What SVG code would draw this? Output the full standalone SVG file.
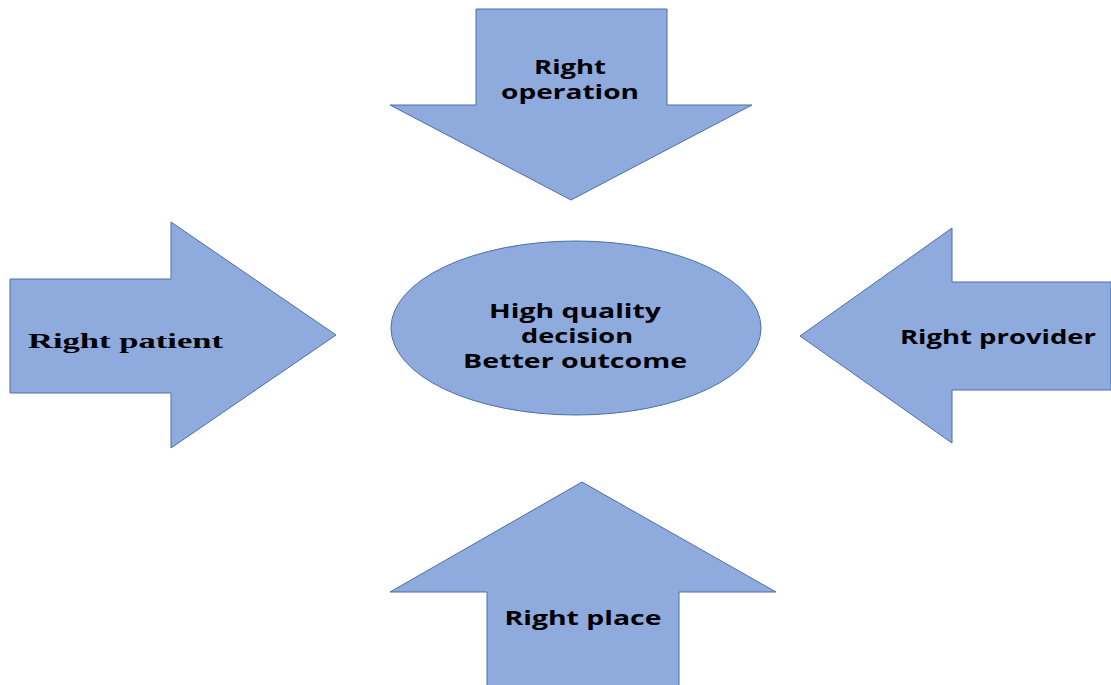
<svg xmlns="http://www.w3.org/2000/svg" width="1111" height="685" viewBox="0 0 1111 685">
<style>
.shape{fill:#8faadc;stroke:#4a6fa8;stroke-width:1}
.lbl{font-family:"Open Sans","Liberation Sans",sans-serif;font-weight:bold;font-size:20px;fill:#000;text-anchor:middle}
.ser{font-family:"Liberation Serif","Times New Roman",serif;font-weight:bold;font-size:22px;fill:#000}
</style>
<rect width="1111" height="685" fill="#fff"/>
<g id="top-arrow">
<polygon class="shape" points="476,9 667,9 667,105 752,105 571,200 390,105 476,105"/>
<text class="lbl" x="570" y="74" textLength="72" lengthAdjust="spacingAndGlyphs">Right</text>
<text class="lbl" x="570" y="99" textLength="138" lengthAdjust="spacingAndGlyphs">operation</text>
</g>
<g id="left-arrow">
<polygon class="shape" points="10,279 171,279 171,222 336,335 171,448 171,393 10,393"/>
<text class="ser" x="28" y="348" textLength="195" lengthAdjust="spacingAndGlyphs">Right patient</text>
</g>
<g id="right-arrow">
<polygon class="shape" points="1111,282 952,282 952,228 800,336 952,443 952,390 1111,390"/>
<text class="lbl" x="998" y="344" textLength="196" lengthAdjust="spacingAndGlyphs">Right provider</text>
</g>
<g id="bottom-arrow">
<polygon class="shape" points="487,686 487,592 390,592 582,482 776,592 679,592 679,686"/>
<text class="lbl" x="583" y="625" textLength="157" lengthAdjust="spacingAndGlyphs">Right place</text>
</g>
<g id="center">
<ellipse class="shape" cx="576" cy="328" rx="185" ry="87"/>
<text class="lbl" x="575" y="318" textLength="172" lengthAdjust="spacingAndGlyphs">High quality</text>
<text class="lbl" x="577" y="343" textLength="112" lengthAdjust="spacingAndGlyphs">decision</text>
<text class="lbl" x="575" y="368" textLength="224" lengthAdjust="spacingAndGlyphs">Better outcome</text>
</g>
<g id="connectors"/>
</svg>
